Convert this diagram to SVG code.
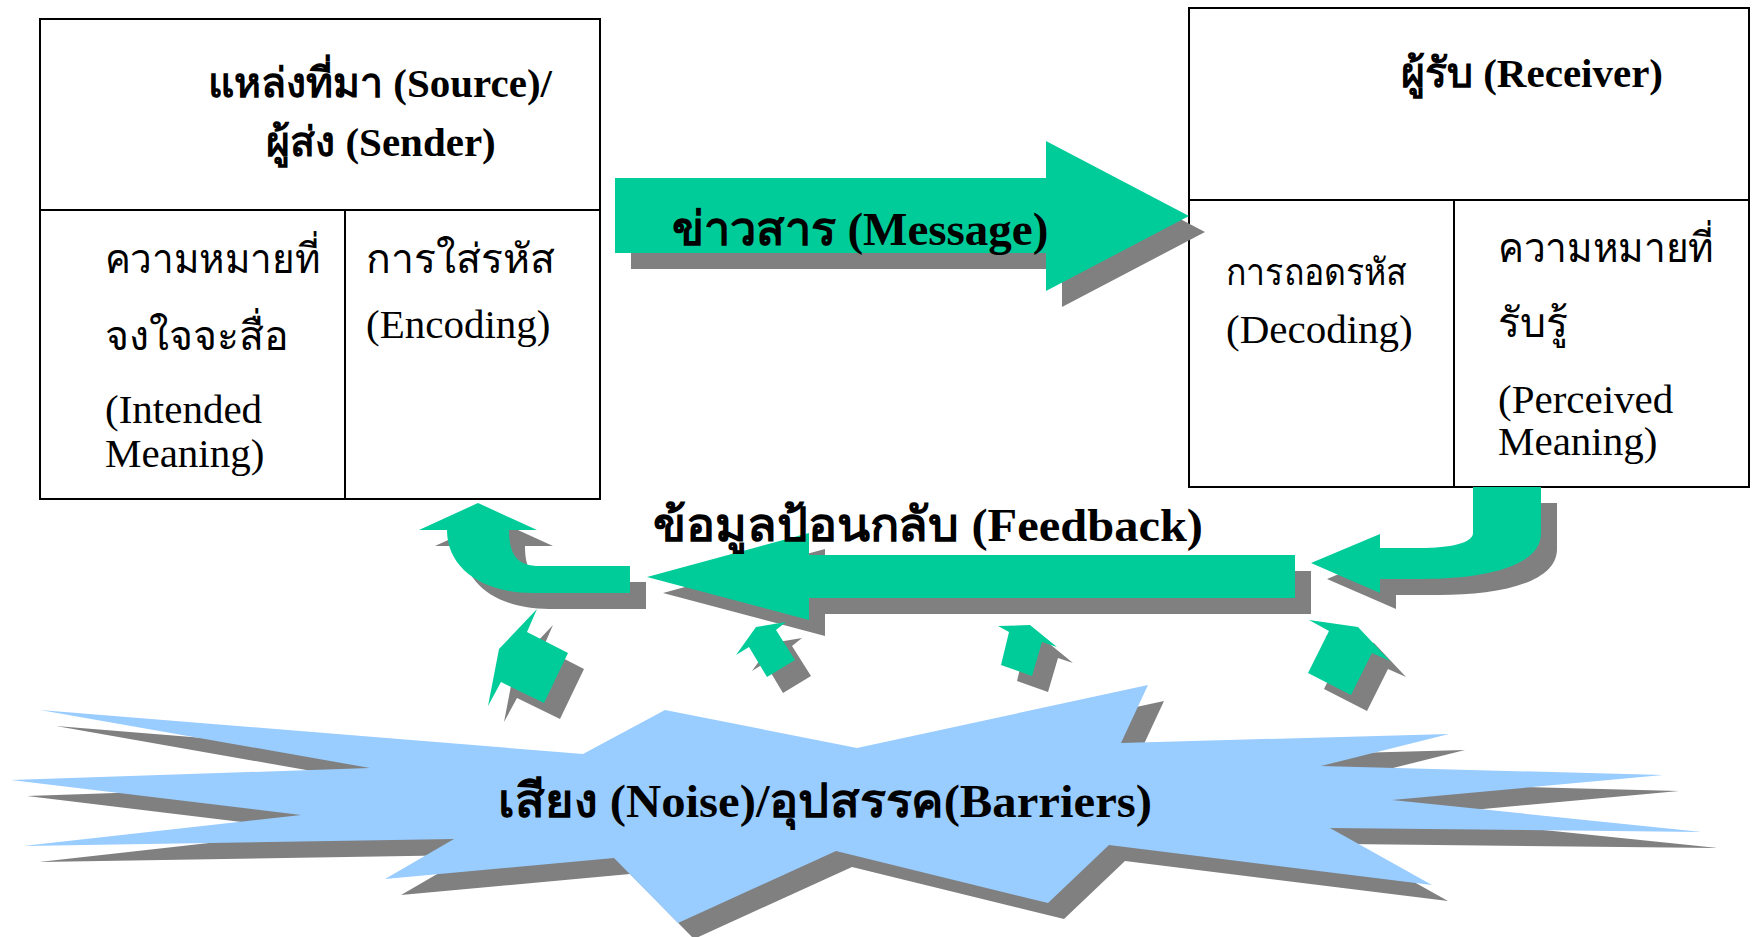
<svg xmlns="http://www.w3.org/2000/svg" width="1754" height="937" viewBox="0 0 1754 937">
<style>
.box{fill:#ffffff;stroke:#000000;stroke-width:2}
.ln{stroke:#000000;stroke-width:2;fill:none}
.g{fill:#00CC99}
.sh{fill:#808080}
.bl{fill:#99CCFF}
text{font-family:"Liberation Serif","Times New Roman",serif;fill:#000000}
.t{font-size:41px;font-weight:bold}
.r{font-size:41px}
.r2{font-size:37px}
.big{font-size:47px;font-weight:bold}
</style>
<defs>
<path id="msg" d="M615,178 L1046,178 L1046,141 L1189,216 L1046,291 L1046,253 L615,253 Z"/>
<path id="fb" d="M1295,555 L1295,598 L809,598 L809,620 L647,577 L809,533 L809,555 Z"/>
<path id="lc" d="M478,503 L537,530 L509,530 C509,556 518,566 540,566 L630,566 L630,593 L533,593 C482,593 447,568 447,530 L419,530 Z"/>
<path id="rc" d="M1541,487 L1541,533 C1541,568 1480,579 1423,579 L1380,579 L1380,593 L1311,563 L1380,534 L1380,548 L1420,548 C1450,548 1473,543 1473,533 L1473,487 Z"/>
<polygon id="a1" points="537,609 527,632 568,653 544,703 501,682 488,706 499,649"/>
<polygon id="a2" points="786,622 776,630 795,660 767,677 749,647 736,655 756,627"/>
<polygon id="a3" points="998,626 1030,625 1057,647 1042,642 1032,676 1001,665 1009,632"/>
<polygon id="a4" points="1309,620 1358,627 1390,661 1372,653 1351,695 1308,673 1329,631"/>
<polygon id="burst" points="40,710 583,754 665,710 857,748 1148,685 1121,743 1449,734 1321,766 1663,775 1392,800 1702,832 1330,828 1432,885 1109,845 1048,903 836,851 678,923 614,858 385,879 454,839 23,846 301,815 11,780 370,768"/>
</defs>

<g id="source">
<rect class="box" x="40" y="19" width="560" height="480"/>
<line class="ln" x1="40" y1="210" x2="600" y2="210"/>
<line class="ln" x1="345" y1="210" x2="345" y2="499"/>
<text class="t" x="380" y="97" text-anchor="middle">แหล่งที่มา (Source)/</text>
<text class="t" x="381" y="156" text-anchor="middle">ผู้ส่ง (Sender)</text>
<text class="r" x="105" y="273" textLength="215" lengthAdjust="spacingAndGlyphs">ความหมายที่</text>
<text class="r" x="105" y="350">จงใจจะสื่อ</text>
<text class="r" x="105" y="423">(Intended</text>
<text class="r" x="105" y="467">Meaning)</text>
<text class="r" x="366" y="273">การใส่รหัส</text>
<text class="r" x="366" y="338">(Encoding)</text>
</g>

<g id="receiver">
<rect class="box" x="1189" y="8" width="560" height="479"/>
<line class="ln" x1="1189" y1="200" x2="1749" y2="200"/>
<line class="ln" x1="1454" y1="200" x2="1454" y2="487"/>
<text class="t" x="1532" y="87" text-anchor="middle">ผู้รับ (Receiver)</text>
<text class="r2" x="1226" y="285" textLength="181" lengthAdjust="spacingAndGlyphs">การถอดรหัส</text>
<text class="r" x="1226" y="343">(Decoding)</text>
<text class="r" x="1498" y="262" textLength="216" lengthAdjust="spacingAndGlyphs">ความหมายที่</text>
<text class="r" x="1498" y="337">รับรู้</text>
<text class="r" x="1498" y="413">(Perceived</text>
<text class="r" x="1498" y="455">Meaning)</text>
</g>

<g id="noise">
<use href="#burst" class="sh" transform="translate(16,16)"/>
<use href="#burst" class="bl"/>
<text class="big" x="825" y="817" text-anchor="middle" textLength="654" lengthAdjust="spacingAndGlyphs">เสียง (Noise)/อุปสรรค(Barriers)</text>
</g>

<g id="connectors">
<g id="shadows">
<use href="#msg" class="sh" transform="translate(16,16)"/>
<use href="#fb" class="sh" transform="translate(16,16)"/>
<use href="#lc" class="sh" transform="translate(16,16)"/>
<use href="#rc" class="sh" transform="translate(16,16)"/>
<use href="#a1" class="sh" transform="translate(16,16)"/>
<use href="#a2" class="sh" transform="translate(16,16)"/>
<use href="#a3" class="sh" transform="translate(16,16)"/>
<use href="#a4" class="sh" transform="translate(16,16)"/>
</g>
<g id="message">
<use href="#msg" class="g"/>
<text class="big" x="860" y="245" text-anchor="middle">ข่าวสาร (Message)</text>
</g>
<g id="feedback">
<use href="#fb" class="g"/>
<use href="#lc" class="g"/>
<use href="#rc" class="g"/>
<text class="big" x="928" y="541" text-anchor="middle" textLength="550" lengthAdjust="spacingAndGlyphs">ข้อมูลป้อนกลับ (Feedback)</text>
</g>
<g id="noise-arrows">
<use href="#a1" class="g"/>
<use href="#a2" class="g"/>
<use href="#a3" class="g"/>
<use href="#a4" class="g"/>
</g>
</g>
</svg>
